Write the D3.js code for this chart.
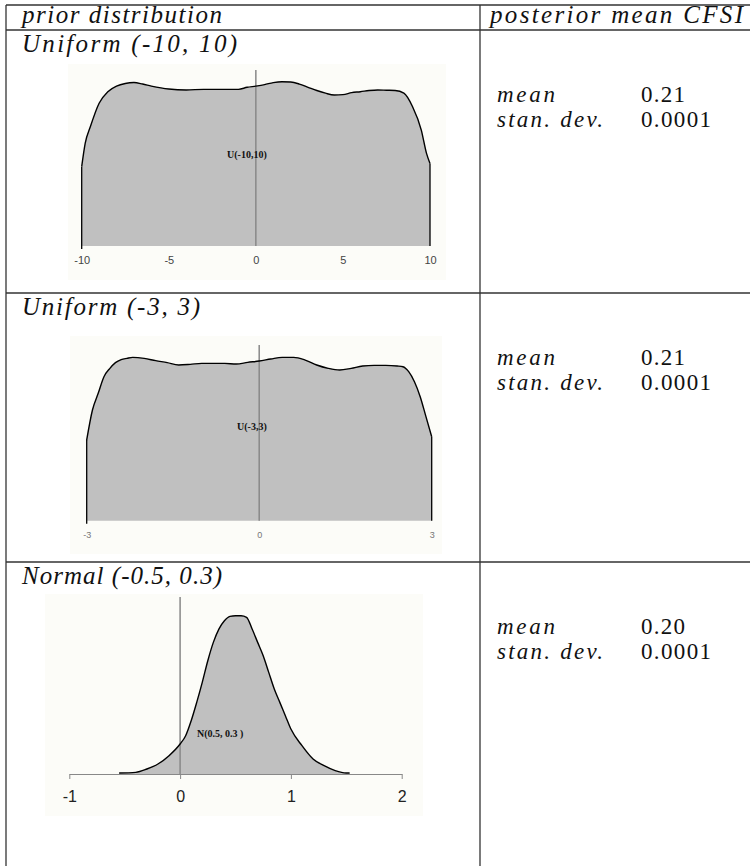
<!DOCTYPE html>
<html>
<head>
<meta charset="utf-8">
<script src="https://cdn.jsdelivr.net/npm/d3@7"></script>
<style>
body { margin: 0; background: #fff; }
svg { display: block; }
</style>
</head>
<body>
<div id="chart"></div>
<script>
// table text
var rowLabels = ['Uniform (-10, 10)', 'Uniform (-3, 3)', 'Normal (-0.5, 0.3)'];
var rowMeans = ['0.21', '0.21', '0.20'];
var rowSds = ['0.0001', '0.0001', '0.0001'];

// prior U(-10,10): smoothed density
var u10X = [-10, -9.8, -9.5, -9, -8.5, -8, -7.5, -7, -6.5, -6, -5, -4, -3, -2, -1, -0.5, 0, 0.5, 1, 1.5, 2, 2.5, 3, 3.5, 4, 4.5, 5, 5.5, 6, 6.5, 7, 7.5, 8, 8.5, 9, 9.5, 9.8, 10];
var u10Y = [0.0269, 0.0348, 0.0405, 0.0484, 0.0523, 0.0542, 0.0551, 0.0554, 0.0549, 0.0542, 0.0532, 0.0529, 0.0531, 0.0531, 0.0531, 0.0538, 0.0542, 0.0547, 0.0554, 0.0557, 0.0556, 0.0549, 0.0538, 0.0527, 0.0518, 0.0512, 0.0513, 0.0520, 0.0523, 0.0527, 0.0529, 0.0528, 0.0527, 0.0518, 0.0472, 0.0393, 0.0314, 0.0280];
var u10Ticks = [-10, -5, 0, 5, 10];

// prior U(-3,3)
var u3X = [-3, -2.9, -2.8, -2.7, -2.6, -2.5, -2.4, -2.3, -2.2, -2, -1.8, -1.6, -1.4, -1.2, -1, -0.8, -0.6, -0.4, -0.2, 0, 0.2, 0.4, 0.6, 0.8, 1, 1.2, 1.4, 1.6, 1.8, 2, 2.2, 2.4, 2.5, 2.6, 2.7, 2.8, 2.9, 3];
var u3Y = [0.0896, 0.123, 0.1415, 0.160, 0.169, 0.1756, 0.179, 0.1804, 0.1815, 0.1804, 0.1778, 0.1756, 0.173, 0.1737, 0.1748, 0.1748, 0.1748, 0.1741, 0.1759, 0.1774, 0.1796, 0.1815, 0.1815, 0.1785, 0.173, 0.1693, 0.1674, 0.1693, 0.1719, 0.1726, 0.1726, 0.1719, 0.1711, 0.1656, 0.1544, 0.1378, 0.1156, 0.0933];
var u3Ticks = [-3, 0, 3];

// prior N(0.5, 0.3)
var nX = [-0.55, -0.4, -0.3, -0.2, -0.1, 0, 0.05, 0.1, 0.15, 0.2, 0.25, 0.3, 0.35, 0.4, 0.45, 0.5, 0.55, 0.6, 0.65, 0.7, 0.75, 0.8, 0.85, 0.9, 0.95, 1, 1.1, 1.2, 1.3, 1.4, 1.5, 1.53];
var nY = [0.008, 0.014, 0.042, 0.084, 0.154, 0.252, 0.322, 0.448, 0.602, 0.770, 0.952, 1.106, 1.218, 1.288, 1.325, 1.330, 1.330, 1.317, 1.218, 1.106, 0.994, 0.854, 0.714, 0.602, 0.490, 0.378, 0.238, 0.126, 0.070, 0.028, 0.008, 0.008];
var nTicks = [-1, 0, 1, 2];

var W = 750, H = 866;
var SERIF = '"Liberation Serif", "Times New Roman", serif';
var svg = d3.select('#chart').append('svg').attr('width', W).attr('height', H);

// table grid
var tbl = { left: 6, top: 5, rows: [30, 293, 562], split: 480 };
var grid = svg.append('g').attr('stroke', '#333').attr('stroke-width', 1.3);
[tbl.top].concat(tbl.rows).forEach(function(y) {
    grid.append('line').attr('x1', tbl.left).attr('x2', W + 2).attr('y1', y).attr('y2', y);
});
grid.append('line').attr('x1', tbl.left).attr('x2', tbl.left).attr('y1', tbl.top).attr('y2', H + 2);
grid.append('line').attr('x1', tbl.split).attr('x2', tbl.split).attr('y1', tbl.top).attr('y2', H + 2);

function tex(x, y, s, size, width, italic) {
    svg.append('text')
        .attr('x', x).attr('y', y)
        .attr('font-family', SERIF)
        .attr('font-size', size)
        .attr('font-style', italic ? 'italic' : 'normal')
        .attr('fill', '#111')
        .attr('textLength', width).attr('lengthAdjust', 'spacing')
        .text(s);
}

tex(22, 23, 'prior distribution', 25, 200, true);
tex(490, 23, 'posterior mean CFSI', 25, 253, true);

var labelWidths = [215, 178, 200];
rowLabels.forEach(function(s, i) {
    var r = tbl.rows[i];
    tex(22, r + 22, s, 25, labelWidths[i], true);
    tex(497, r + 72, 'mean', 23, 58, true);
    tex(497, r + 97, 'stan. dev.', 23, 106, true);
    tex(641, r + 72, rowMeans[i], 23, 44, false);
    tex(641, r + 97, rowSds[i], 23, 70, false);
});

// one density panel
function panel(o) {
    var g = svg.append('g');
    g.append('rect').attr('x', o.bg[0]).attr('y', o.bg[1]).attr('width', o.bg[2]).attr('height', o.bg[3])
        .attr('fill', '#fcfcf8');

    var x = d3.scaleLinear().domain(o.domain).range(o.xr);
    var y = d3.scaleLinear().domain(o.ydomain).range([o.base, o.top]);
    var pts = o.xs.map(function(v, i) { return [v, o.ys[i]]; });

    var area = d3.area().curve(d3.curveMonotoneX)
        .x(function(d) { return x(d[0]); })
        .y0(o.base)
        .y1(function(d) { return y(d[1]); });
    var line = d3.line().curve(d3.curveMonotoneX)
        .x(function(d) { return x(d[0]); })
        .y(function(d) { return y(d[1]); });

    g.append('path').datum(pts).attr('d', area).attr('fill', '#c0c0c0');

    if (o.edges) {
        // straight sides of the uniform plots
        var first = pts[0], last = pts[pts.length - 1];
        g.append('line').attr('x1', x(first[0])).attr('x2', x(first[0])).attr('y1', o.base + 3).attr('y2', y(first[1]))
            .attr('stroke', '#000').attr('stroke-width', 1.3);
        g.append('line').attr('x1', x(last[0])).attr('x2', x(last[0])).attr('y1', o.base).attr('y2', y(last[1]))
            .attr('stroke', '#000').attr('stroke-width', 1.3);
    }

    g.append('line').attr('x1', x(0)).attr('x2', x(0)).attr('y1', o.zeroLine[0]).attr('y2', o.zeroLine[1])
        .attr('stroke', '#888').attr('stroke-width', 1.5);

    g.append('path').datum(pts).attr('d', line).attr('fill', 'none')
        .attr('stroke', '#000').attr('stroke-width', 1.4);

    var axis = d3.axisBottom(x).tickValues(o.ticks).tickSizeOuter(0)
        .tickSizeInner(o.tickSize).tickPadding(o.pad).tickFormat(function(d) { return String(d); });
    var ax = g.append('g').attr('transform', 'translate(0,' + o.base + ')').call(axis);
    ax.select('.domain').attr('stroke', o.axisLine ? '#888' : 'none');
    ax.selectAll('.tick line').attr('stroke', '#888');
    ax.selectAll('.tick text')
        .attr('font-family', '"Liberation Sans", Arial, sans-serif')
        .attr('font-size', o.tickFont).attr('fill', o.tickColor);

    g.append('text').attr('x', o.label[0]).attr('y', o.label[1])
        .attr('font-family', SERIF).attr('font-weight', 'bold')
        .attr('font-size', 10).attr('fill', '#111').attr('dominant-baseline', 'middle')
        .text(o.label[2]);
}

panel({
    xs: u10X, ys: u10Y, ticks: u10Ticks, domain: [-10, 10], xr: [81.7, 430],
    ydomain: [0, 0.06], base: 246, top: 69, edges: true, zeroLine: [70, 246],
    tickSize: 0, pad: 10, tickFont: 11, tickColor: '#444', axisLine: false,
    bg: [68, 64, 378, 216], label: [227, 156, 'U(-10,10)']
});

panel({
    xs: u3X, ys: u3Y, ticks: u3Ticks, domain: [-3, 3], xr: [86.7, 431.7],
    ydomain: [0, 0.2], base: 520.7, top: 340.7, edges: true, zeroLine: [345, 520.7],
    tickSize: 0, pad: 11, tickFont: 9, tickColor: '#777', axisLine: false,
    bg: [70, 336, 372, 218], label: [237, 428, 'U(-3,3)']
});

panel({
    xs: nX, ys: nY, ticks: nTicks, domain: [-1, 2], xr: [69.3, 401.7],
    ydomain: [0, 1.5], base: 774, top: 595.5, edges: false, zeroLine: [597, 774],
    tickSize: 5, pad: 12, tickFont: 16, tickColor: '#222', axisLine: true,
    bg: [45, 594, 378, 222], label: [197, 735, 'N(0.5, 0.3 )']
});
</script>
</body>
</html>
